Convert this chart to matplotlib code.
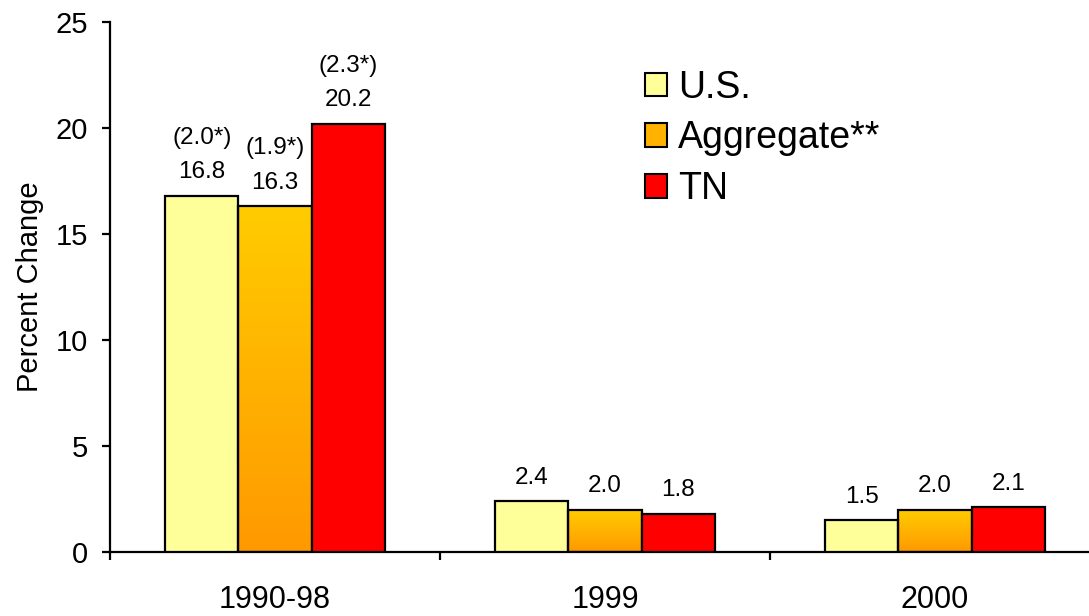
import numpy as np
import matplotlib
matplotlib.use("Agg")
import matplotlib.pyplot as plt
from matplotlib.patches import Patch
from matplotlib.colors import LinearSegmentedColormap

plt.rcParams['font.family'] = ['Liberation Sans', 'DejaVu Sans']

categories = ['1990-98', '1999', '2000']
series = ['U.S.', 'Aggregate**', 'TN']
us = [16.8, 2.4, 1.5]
aggregate = [16.3, 2.0, 2.0]
tn = [20.2, 1.8, 2.1]
# average annual rates shown in brackets over the first group
annual = [['2.0*', '1.9*', '2.3*'], [None, None, None], [None, None, None]]

colors = ['#FFFF99', None, '#FF0000']
grad = LinearSegmentedColormap.from_list('agg', ['#FF9900', '#FFCC00'])

fig = plt.figure(figsize=(10.89, 6.16), dpi=100)
ax = fig.add_axes([110 / 1089, 64 / 616, 990 / 1089, 530 / 616])

x = np.arange(len(categories))
w = 0.222
values = [us, aggregate, tn]
for i, vals in enumerate(values):
    pos = x + (i - 1) * w
    if colors[i] is None:
        bars = ax.bar(pos, vals, w, facecolor='none', edgecolor='black', linewidth=1.6, zorder=3)
        g = np.linspace(0, 1, 256).reshape(-1, 1)
        for b in bars:
            x0, y0 = b.get_x(), b.get_y()
            ax.imshow(g, cmap=grad, origin='lower', aspect='auto',
                      extent=[x0, x0 + b.get_width(), y0, y0 + b.get_height()], zorder=2)
    else:
        bars = ax.bar(pos, vals, w, color=colors[i], edgecolor='black', linewidth=1.6, zorder=3)
    for j, b in enumerate(bars):
        txt = f'{vals[j]:.1f}'
        if annual[j][i]:
            txt = f'({annual[j][i]})\n' + txt
        ax.annotate(txt, (b.get_x() + b.get_width() / 2, b.get_height()),
                    xytext=(0, 9), textcoords='offset points', ha='center', va='bottom',
                    fontsize=17.5, linespacing=1.75)

ax.set_xlim(-0.5, 2.5)
ax.set_ylim(0, 25)
ax.set_yticks([0, 5, 10, 15, 20, 25])
ax.set_xticks([-0.5, 0.5, 1.5])
ax.set_xticklabels([])
ax.set_xticks(x, minor=True)
ax.set_xticklabels(categories, minor=True, fontsize=22)
ax.tick_params(axis='x', which='minor', length=0, pad=24)
ax.tick_params(axis='x', which='major', length=6, width=1.6, direction='out')
ax.tick_params(axis='y', length=6, width=1.6, labelsize=21, pad=10)
ax.set_ylabel('Percent Change', fontsize=21, labelpad=8)
for s in ['top', 'right']:
    ax.spines[s].set_visible(False)
for s in ['left', 'bottom']:
    ax.spines[s].set_linewidth(1.6)

handles = [Patch(facecolor='#FFFF99', edgecolor='black', linewidth=1.5),
           Patch(facecolor='#FFB300', edgecolor='black', linewidth=1.5),
           Patch(facecolor='#FF0000', edgecolor='black', linewidth=1.5)]
ax.legend(handles, series, loc='upper left', bbox_to_anchor=(0.54, 0.91),
          frameon=False, fontsize=27, handlelength=0.6, handleheight=0.6,
          handletextpad=0.3, labelspacing=0.39, borderpad=0, borderaxespad=0)

plt.savefig('out.png', dpi=100)
